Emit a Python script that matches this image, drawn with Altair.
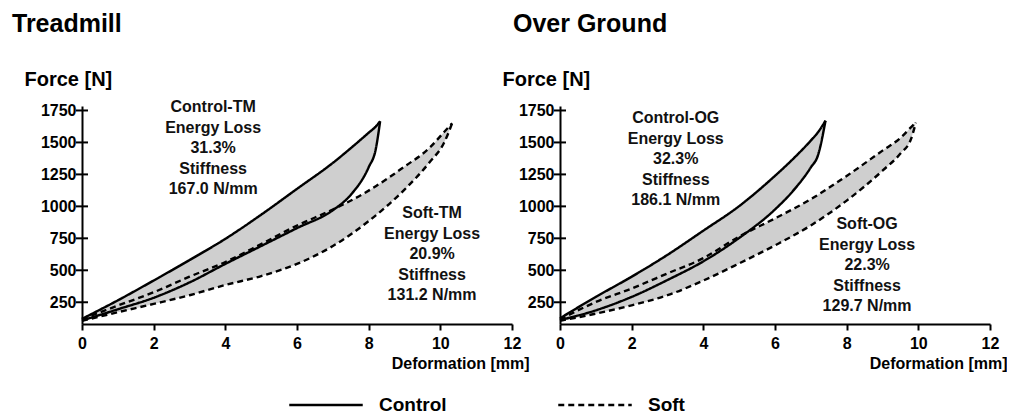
import altair as alt
import pandas as pd

# ---------------- data ----------------
# Treadmill
tm_control_x = [0, 1, 2, 3, 4, 5, 6, 7, 7.5, 8.0, 8.2, 8.32]
tm_control_load = [120, 265, 420, 580, 746, 935, 1137, 1340, 1455, 1576, 1625, 1666]
tm_control_unload = [107, 195, 285, 405, 550, 690, 830, 970, 1090, 1306, 1450, 1666]

tm_soft_x = [0, 1, 2, 3, 4, 5, 6, 7, 8, 9, 9.7, 10.1, 10.33]
tm_soft_load = [118, 224, 328, 450, 565, 705, 850, 975, 1123, 1311, 1458, 1580, 1650]
tm_soft_unload = [105, 172, 237, 305, 385, 455, 550, 690, 885, 1131, 1345, 1495, 1650]

# Over ground
og_control_x = [0, 1, 2, 3, 4, 5, 6, 6.5, 7.0, 7.2, 7.41]
og_control_load = [125, 292, 450, 621, 810, 1002, 1239, 1370, 1515, 1580, 1670]
og_control_unload = [110, 187, 292, 424, 570, 753, 976, 1120, 1305, 1400, 1670]

og_soft_x = [0, 1, 2, 3, 4, 5, 6, 7, 8, 9, 9.5, 9.8, 9.93]
og_soft_load = [115, 252, 358, 476, 595, 764, 906, 1056, 1238, 1436, 1535, 1620, 1655]
og_soft_unload = [105, 161, 226, 305, 420, 554, 695, 851, 1045, 1279, 1413, 1530, 1655]

y_ticks = [250, 500, 750, 1000, 1250, 1500, 1750]
x_ticks = [0, 2, 4, 6, 8, 10, 12]

# position = centre of the first line of each annotation block
annot_tm = [
    {"x": 3.66, "F": 1775, "label": "Control-TM\nEnergy Loss\n31.3%\nStiffness\n167.0 N/mm"},
    {"x": 9.77, "F": 948, "label": "Soft-TM\nEnergy Loss\n20.9%\nStiffness\n131.2 N/mm"},
]
annot_og = [
    {"x": 3.23, "F": 1691, "label": "Control-OG\nEnergy Loss\n32.3%\nStiffness\n186.1 N/mm"},
    {"x": 8.57, "F": 862, "label": "Soft-OG\nEnergy Loss\n22.3%\nStiffness\n129.7 N/mm"},
]

FONT = "Liberation Sans"
W, H = 430, 218
YDOM = [80, 1785]


def loops_frames(loops):
    long_rows, wide_rows = [], []
    for series, xs, load, unload in loops:
        for x, a, b in zip(xs, load, unload):
            long_rows.append({"series": series, "branch": series + "-load", "x": x, "F": a})
            long_rows.append({"series": series, "branch": series + "-unload", "x": x, "F": b})
            wide_rows.append({"series": series, "x": x, "load": a, "unload": b})
    return pd.DataFrame(long_rows), pd.DataFrame(wide_rows)


dash_scale = alt.Scale(domain=["Control", "Soft"], range=[[1, 0], [6, 4]])


def panel(title, title_dx, loops, annots):
    long_df, wide_df = loops_frames(loops)
    xscale = alt.Scale(domain=[0, 12], nice=False)
    yscale = alt.Scale(domain=YDOM, nice=False, zero=False)

    xaxis = alt.Axis(values=x_ticks, title="Deformation [mm]", grid=False,
                     domainColor="black", domainWidth=2, tickColor="black", tickWidth=2,
                     tickSize=6, labelPadding=5, labelFont=FONT, labelFontSize=16,
                     labelFontWeight="bold", labelColor="black", labelOverlap=False,
                     titleFont=FONT,
                     titleFontSize=16, titleFontWeight="bold", titleColor="black",
                     titleAnchor="end", titleAlign="right", titleX=W + 17, titleY=31,
                     titleBaseline="top", format="d")
    yaxis = alt.Axis(values=y_ticks, title="Force [N]", grid=False, ticks=False,
                     domainColor="black", domainWidth=2, labelPadding=6,
                     labelFont=FONT, labelFontSize=16, labelFontWeight="bold",
                     labelColor="black", labelOverlap=False, titleFont=FONT,
                     titleFontSize=20,
                     titleFontWeight="bold", titleColor="black", titleAngle=0,
                     titleAlign="left", titleBaseline="middle", titleX=-58, titleY=-27,
                     format="d")

    area = alt.Chart(wide_df).mark_area(color="#cfcfcf", interpolate="monotone").encode(
        x=alt.X("x:Q", scale=xscale, axis=xaxis),
        y=alt.Y("load:Q", scale=yscale, axis=yaxis),
        y2="unload:Q",
        detail="series:N",
    )
    lines = alt.Chart(long_df).mark_line(color="black", strokeWidth=2.4,
                                         interpolate="monotone").encode(
        x=alt.X("x:Q", scale=xscale, axis=xaxis),
        y=alt.Y("F:Q", scale=yscale, axis=yaxis),
        strokeDash=alt.StrokeDash("series:N", scale=dash_scale, title=None),
        detail="branch:N",
    )
    ticks = alt.Chart(pd.DataFrame({"F": y_ticks})).mark_rule(
        color="black", strokeWidth=2).encode(
        y=alt.Y("F:Q", scale=yscale, axis=yaxis),
        x=alt.value(-6), x2=alt.value(6),
    )
    text = alt.Chart(pd.DataFrame(annots)).mark_text(
        font=FONT, fontSize=16, fontWeight="bold", color="#111", align="center",
        baseline="middle", lineBreak="\n", lineHeight=20.5).encode(
        x=alt.X("x:Q", scale=xscale, axis=xaxis),
        y=alt.Y("F:Q", scale=yscale, axis=yaxis), text="label:N")
    return alt.layer(area, lines, ticks, text).properties(
        width=W, height=H,
        title=alt.TitleParams(title, anchor="start", frame="group", dx=title_dx,
                              font=FONT, fontSize=25, fontWeight="bold",
                              color="black", offset=32),
    )


left = panel("Treadmill", -70,
             [("Control", tm_control_x, tm_control_load, tm_control_unload),
              ("Soft", tm_soft_x, tm_soft_load, tm_soft_unload)], annot_tm)
right = panel("Over Ground", -47,
              [("Control", og_control_x, og_control_load, og_control_unload),
               ("Soft", og_soft_x, og_soft_load, og_soft_unload)], annot_og)

chart = alt.hconcat(left, right, spacing=48, bounds="flush").properties(
    padding={"left": 12, "top": 12, "right": 0, "bottom": 0},
    background="white",
).configure_view(stroke=None).configure_axis(
    labelOverlap=False, labelBound=False, labelFlush=False,
).configure_legend(
    orient="none", legendX=206, legendY=261, direction="horizontal", padding=0,
    symbolType="stroke", symbolSize=5400, symbolStrokeWidth=2.4,
    symbolStrokeColor="black", labelFont=FONT, labelFontSize=19,
    labelFontWeight="bold", labelColor="black", labelOffset=15,
    columnPadding=106, labelLimit=200, gridAlign="none",
)

chart.save("out.html", embed_options={"renderer": "svg", "actions": False})
